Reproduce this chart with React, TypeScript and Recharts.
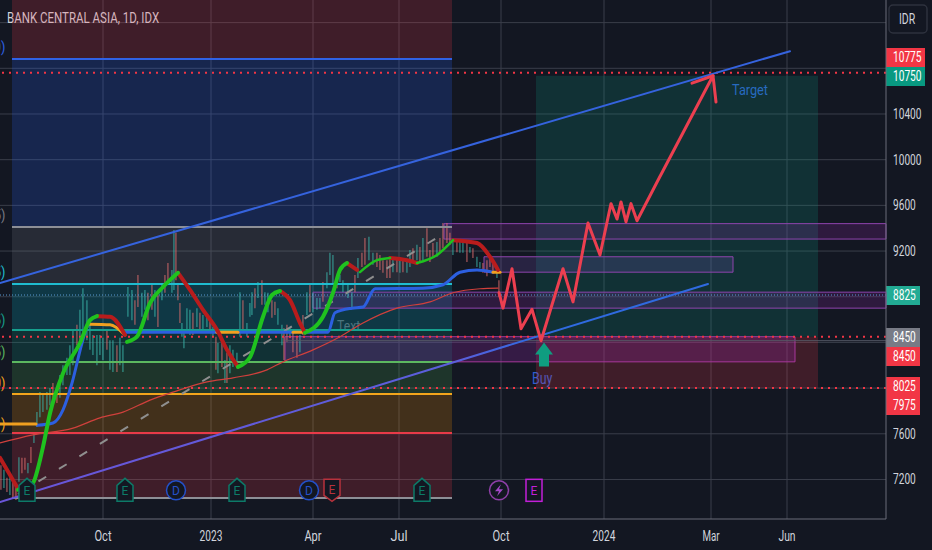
import React from 'react';
import {
  Bar,
  CartesianGrid,
  Cell,
  ComposedChart,
  Line,
  ReferenceArea,
  ReferenceDot,
  ReferenceLine,
  XAxis,
  YAxis,
} from 'recharts';

// time runs as bar position along the chart, price in IDR
const timeTicks = [103, 211, 313, 399, 501, 604, 711, 787];
const timeLabels = ['Oct', '2023', 'Apr', 'Jul', 'Oct', '2024', 'Mar', 'Jun'];
const priceTicks = [7200, 7600, 9200, 9600, 10000, 10400];
const gridPrices = [7200, 7600, 8000, 8400, 8800, 9200, 9600, 10000, 10400, 10800, 11200];

const candleTimes = [
  1, 4, 7, 10, 13, 16, 19, 22, 25, 28, 31, 34, 37, 40, 43, 47, 50, 53, 57, 60, 63, 67, 70, 73, 77, 80, 83, 87, 90, 93,
  97, 100, 103, 107, 110, 113, 117, 120, 123, 128, 132, 135, 138, 142, 145, 148, 152, 155, 158, 162, 165, 168, 172,
  174, 176, 178, 180, 182, 184, 187, 190, 193, 197, 200, 203, 207, 210, 213, 216, 218, 222, 225, 227, 230, 233, 237,
  240, 243, 247, 250, 252, 255, 258, 262, 265, 268, 272, 275, 278, 282, 284, 287, 290, 293, 297, 300, 303, 307, 310,
  313, 317, 320, 323, 327, 330, 333, 337, 340, 343, 348, 352, 355, 358, 362, 365, 369, 373, 377, 380, 383, 387, 390,
  393, 397, 400, 403, 407, 410, 413, 417, 420, 423, 427, 430, 433, 437, 440, 443, 447, 450, 453, 457, 460, 463, 467,
  470, 473, 477, 480, 483, 487, 490, 493, 497, 499,
];
const candleHighs = [
  7325, 7285, 7215, 7240, 7195, 7150, 7395, 7390, 7390, 7345, 7485, 7615, 7790, 7965, 7940, 7965, 8000, 8045, 7985,
  8115, 8200, 8265, 8375, 8510, 8555, 8685, 8875, 8770, 8595, 8465, 8465, 8465, 8440, 8510, 8420, 8420, 8375, 8440,
  8375, 8885, 8860, 8770, 8990, 8835, 8860, 8835, 8905, 8860, 8815, 8905, 8990, 9095, 9035, 9385, 9360, 8920, 8745,
  8570, 8510, 8700, 8685, 8660, 8700, 8660, 8640, 8640, 8595, 8535, 8450, 8395, 8420, 8245, 8310, 8375, 8335, 8310,
  8840, 8770, 8570, 8745, 8840, 8875, 8930, 8945, 8840, 8835, 8770, 8755, 8700, 8555, 8525, 8555, 8525, 8490, 8440,
  8465, 8640, 8840, 8905, 8835, 8790, 8790, 8930, 9015, 9185, 9165, 8990, 8990, 8945, 8920, 8840, 8990, 9140, 9185,
  9315, 9325, 9185, 9185, 9165, 9120, 9120, 9150, 9140, 9140, 9120, 9120, 9120, 9210, 9225, 9255, 9235, 9315, 9400,
  9210, 9270, 9280, 9315, 9445, 9445, 9360, 9280, 9295, 9295, 9280, 9270, 9235, 9225, 9150, 9105, 9095, 9120, 9165,
  9120, 9060, 8945,
];
const candleLows = [
  7110, 7125, 7090, 7065, 7040, 7020, 7180, 7255, 7285, 7255, 7345, 7520, 7660, 7745, 7790, 7810, 7850, 7880, 7870,
  7915, 8025, 8115, 8115, 8200, 8375, 8420, 8465, 8420, 8335, 8290, 8200, 8290, 8245, 8335, 8160, 8140, 8140, 8200,
  8140, 8625, 8595, 8555, 8710, 8625, 8685, 8595, 8685, 8625, 8535, 8770, 8835, 8920, 8835, 8860, 8945, 8770, 8570,
  8450, 8350, 8485, 8465, 8465, 8535, 8490, 8510, 8535, 8485, 8450, 8160, 8130, 8185, 8045, 8045, 8130, 8185, 8185,
  8450, 8510, 8450, 8625, 8640, 8700, 8790, 8730, 8730, 8665, 8615, 8640, 8555, 8375, 8245, 8405, 8440, 8315, 8265,
  8315, 8465, 8640, 8665, 8665, 8685, 8700, 8755, 8875, 8990, 8905, 8875, 8930, 8840, 8790, 8700, 8840, 8965, 9060,
  9080, 9120, 9080, 9060, 9035, 9010, 8965, 8965, 9015, 9015, 9010, 9015, 9010, 9060, 9105, 9120, 9095, 9120, 9150,
  9105, 9140, 9150, 9185, 9225, 9270, 9255, 9165, 9190, 9185, 9185, 9105, 9185, 9140, 9060, 9050, 9010, 8980, 9060,
  9010, 8965, 8800,
];
const candleDirs = (
  'DUDUDDUDDUDUUUUUUDDUUUUUDUUUUUUUUDUUDUU' +
  'UUDDUUDDUDUDDUUDDDUUUUDUDUUDUDUDUDUUUUD' +
  'UUUDUDUUDDUUDDUDDUDUDUUUDUUUDUUUUDUDDUU' +
  'DDDDDUDUDUUDUDUDDDUDDDDUDUUDUDUUDDDDUDUU'
).split('');

const channelUpper = [{ x: 0, p: 8920 }, { x: 790, p: 10950 }];
const channelLower = [{ x: 0, p: 7003 }, { x: 708, p: 8912 }];
const dashedTrend = [{ x: 18, p: 7073 }, { x: 445, p: 9360 }];

const slowAverage = [
  { x: 0, p: 7520 }, { x: 33, p: 7590 }, { x: 73, p: 7650 }, { x: 100, p: 7740 }, { x: 123, p: 7790 },
  { x: 150, p: 7895 }, { x: 173, p: 7965 }, { x: 207, p: 8055 }, { x: 233, p: 8090 }, { x: 267, p: 8160 },
  { x: 283, p: 8230 }, { x: 313, p: 8335 }, { x: 340, p: 8450 }, { x: 363, p: 8570 }, { x: 397, p: 8700 },
  { x: 430, p: 8755 }, { x: 453, p: 8835 }, { x: 480, p: 8870 }, { x: 498, p: 8875 },
];

const hullRising = [
  [{ x: 18, p: 7110 }, { x: 33, p: 7170 }, { x: 38, p: 7300 }, { x: 43, p: 7485 }, { x: 50, p: 7780 }, { x: 63, p: 8130 }, { x: 80, p: 8395 }, { x: 90, p: 8595 }, { x: 97, p: 8630 }],
  [{ x: 127, p: 8405 }, { x: 137, p: 8450 }, { x: 150, p: 8745 }, { x: 163, p: 8885 }, { x: 178, p: 9010 }],
  [{ x: 238, p: 8185 }, { x: 250, p: 8270 }, { x: 263, p: 8625 }, { x: 272, p: 8815 }, { x: 280, p: 8850 }],
  [{ x: 305, p: 8485 }, { x: 323, p: 8625 }, { x: 333, p: 8835 }, { x: 340, p: 9035 }, { x: 347, p: 9095 }],
  [{ x: 360, p: 9015 }, { x: 377, p: 9120 }, { x: 390, p: 9140 }],
  [{ x: 417, p: 9095 }, { x: 437, p: 9165 }, { x: 453, p: 9295 }],
];
const hullFalling = [
  [{ x: 0, p: 7390 }, { x: 17, p: 7135 }],
  [{ x: 97, p: 8630 }, { x: 110, p: 8625 }, { x: 125, p: 8465 }],
  [{ x: 178, p: 9010 }, { x: 190, p: 8860 }, { x: 203, p: 8685 }, { x: 217, p: 8510 }, { x: 227, p: 8335 }, { x: 238, p: 8185 }],
  [{ x: 280, p: 8850 }, { x: 290, p: 8770 }, { x: 300, p: 8570 }, { x: 305, p: 8485 }],
  [{ x: 347, p: 9095 }, { x: 357, p: 9035 }],
  [{ x: 390, p: 9140 }, { x: 407, p: 9120 }, { x: 417, p: 9095 }],
  [{ x: 453, p: 9295 }, { x: 477, p: 9270 }, { x: 490, p: 9150 }, { x: 498, p: 9035 }],
];

const stopBlue = [
  [{ x: 37, p: 7675 }, { x: 53, p: 7695 }, { x: 63, p: 7810 }, { x: 72, p: 8045 }, { x: 82, p: 8395 }, { x: 87, p: 8535 }, { x: 90, p: 8560 }],
  [{ x: 125, p: 8490 }, { x: 217, p: 8490 }],
  [{ x: 238, p: 8490 }, { x: 293, p: 8490 }],
  [{ x: 305, p: 8490 }, { x: 328, p: 8490 }, { x: 335, p: 8660 }, { x: 352, p: 8700 }, { x: 363, p: 8710 }, { x: 375, p: 8870 }, { x: 423, p: 8875 }, { x: 443, p: 8905 }, { x: 460, p: 9015 }, { x: 477, p: 9035 }, { x: 493, p: 9015 }],
];
const stopOrange = [
  [{ x: 0, p: 7685 }, { x: 36, p: 7685 }],
  [{ x: 90, p: 8560 }, { x: 110, p: 8555 }, { x: 125, p: 8465 }],
  [{ x: 217, p: 8490 }, { x: 238, p: 8490 }],
  [{ x: 293, p: 8490 }, { x: 305, p: 8490 }],
  [{ x: 493, p: 9015 }, { x: 500, p: 9015 }],
];

const projection = [
  { x: 499, p: 8835 }, { x: 503, p: 8700 }, { x: 512, p: 9045 }, { x: 521, p: 8520 }, { x: 532, p: 8690 },
  { x: 541, p: 8415 }, { x: 563, p: 9045 }, { x: 573, p: 8755 }, { x: 588, p: 9445 }, { x: 600, p: 9165 },
  { x: 611, p: 9615 }, { x: 617, p: 9480 }, { x: 621, p: 9630 }, { x: 626, p: 9455 }, { x: 631, p: 9615 },
  { x: 637, p: 9465 }, { x: 658, p: 9820 }, { x: 713, p: 10735 },
];
const projectionHead = [{ x: 692, p: 10670 }, { x: 713, p: 10735 }, { x: 716, p: 10505 }];

// fib-style levels on the left, top to bottom
const levelPrices = [10881, 9411, 8912, 8509, 8229, 7949, 7607, 7038];
const levelColors = ['#2f62e6', '#8d8f96', '#1fbcd0', '#16a08e', '#5cb860', '#f2a51c', '#e83a48', '#8d8f96'];
const zoneColors = ['#f23645', '#2962ff', '#787b86', '#00bcd4', '#089981', '#4caf50', '#ff9800', '#f23645'];

const earningsTimes = [27, 125, 237, 422];
const dividendTimes = [176, 309];

const tagLabels = ['10775', '10750', '8825', '8450', '8450', '8025', '7975'];
const tagColors = ['#f23645', '#089981', '#22ab94', '#787b86', '#f23645', '#f23645', '#f23645'];
const tagTops = [48, 67, 286, 328, 347, 377, 396];

const candles = candleTimes.map((x, i) => ({ x, range: [candleLows[i], candleHighs[i]] }));

const EVENT_Y = 7105;
const FONT = 'Roboto, sans-serif';
const CHAR_W = 5.7;

// the source text is squeezed horizontally, no narrow font here so stretch to a set length
const Squeezed = ({ x, y, text, fill, size = 14, anchor = 'start', w = CHAR_W }: any) => (
  <text
    x={x}
    y={y}
    fontSize={size}
    fill={fill}
    fontFamily={FONT}
    textAnchor={anchor}
    textLength={String(text).length * w}
    lengthAdjust="spacingAndGlyphs"
  >
    {text}
  </text>
);

const PriceTick = ({ y, payload }: any) => <Squeezed x={893} y={y + 5} text={String(payload.value)} fill="#d1d4dc" />;
const TimeTick = ({ x, payload }: any) => (
  <Squeezed x={x} y={541} text={timeLabels[timeTicks.indexOf(payload.value)]} fill="#d1d4dc" anchor="middle" />
);

const EarningsFlag = ({ cx, cy }: any) => (
  <g>
    <path
      d={`M${cx - 8} ${cy + 11} V${cy - 5} L${cx} ${cy - 12} L${cx + 8} ${cy - 5} V${cy + 11} Z`}
      fill="#131722"
      stroke="#0d7a68"
      strokeWidth={1.5}
    />
    <text x={cx} y={cy + 5} textAnchor="middle" fontSize={12} fill="#0d7a68" fontFamily={FONT}>E</text>
  </g>
);

const DividendBadge = ({ cx, cy }: any) => (
  <g>
    <circle cx={cx} cy={cy} r={9.5} fill="#131722" stroke="#2450c8" strokeWidth={1.5} />
    <text x={cx} y={cy + 4.5} textAnchor="middle" fontSize={12} fill="#2450c8" fontFamily={FONT}>D</text>
  </g>
);

const MissedEarnings = ({ cx, cy }: any) => (
  <g>
    <path
      d={`M${cx - 8} ${cy - 11} H${cx + 8} V${cy + 5} L${cx} ${cy + 11} L${cx - 8} ${cy + 5} Z`}
      fill="#131722"
      stroke="#b8323c"
      strokeWidth={1.5}
    />
    <text x={cx} y={cy + 4} textAnchor="middle" fontSize={12} fill="#b8323c" fontFamily={FONT}>E</text>
  </g>
);

const SplitBadge = ({ cx, cy }: any) => (
  <g>
    <circle cx={cx} cy={cy} r={9.5} fill="#131722" stroke="#8e3fa8" strokeWidth={1.5} />
    <path d={`M${cx + 2} ${cy - 6} L${cx - 4} ${cy + 1} H${cx} L${cx - 2} ${cy + 6} L${cx + 4} ${cy - 1} H${cx} Z`} fill="#a548c8" />
  </g>
);

const FutureEarnings = ({ cx, cy }: any) => (
  <g>
    <rect x={cx - 8} y={cy - 11} width={16} height={22} fill="#131722" stroke="#c21fd8" strokeWidth={1.5} />
    <text x={cx} y={cy + 4.5} textAnchor="middle" fontSize={12} fill="#c21fd8" fontFamily={FONT}>E</text>
  </g>
);

const BuyArrow = ({ cx, cy }: any) => (
  <path
    d={`M${cx} ${cy} L${cx + 9} ${cy + 12} H${cx + 5} V${cy + 24} H${cx - 5} V${cy + 12} H${cx - 9} Z`}
    fill="#0f9d80"
  />
);

const PriceTag = ({ i }: { i: number }) => (
  <g>
    <rect x={886} y={tagTops[i]} width={i < 2 ? 39 : 34} height={19} fill={tagColors[i]} />
    <Squeezed x={893} y={tagTops[i] + 14} text={tagLabels[i]} fill="#fff" />
  </g>
);

const line = (data: any[], stroke: string, width: number, key: string, extra: any = {}) => (
  <Line
    key={key}
    data={data}
    dataKey="p"
    stroke={stroke}
    strokeWidth={width}
    dot={false}
    activeDot={false}
    legendType="none"
    isAnimationActive={false}
    strokeLinejoin="round"
    strokeLinecap="round"
    {...extra}
  />
);

const App = () => {
  const stubs = [
    { t: '0)', y: 52, c: '#2f62e6' },
    { t: '5)', y: 220, c: '#787b86' },
    { t: '5)', y: 277, c: '#1fbcd0' },
    { t: '5)', y: 325, c: '#16a08e' },
    { t: '5)', y: 357, c: '#5cb860' },
    { t: '0)', y: 388, c: '#f2a51c' },
    { t: '1)', y: 429, c: '#f2a51c' },
  ];
  return (
    <div style={{ position: 'absolute', left: 0, top: 0, width: 932, height: 550, background: '#131722', overflow: 'hidden' }}>
      <ComposedChart width={932} height={550} data={candles} margin={{ top: 0, right: 0, bottom: 0, left: 0 }}>
        <defs>
          <linearGradient id="lowerChannel" x1="0" y1="0" x2="1" y2="0">
            <stop offset="0%" stopColor="#6a55d8" />
            <stop offset="65%" stopColor="#5a5fdc" />
            <stop offset="75%" stopColor="#2f6ae0" />
            <stop offset="100%" stopColor="#2f6ae0" />
          </linearGradient>
        </defs>
        <CartesianGrid stroke="#3a3e4a" strokeWidth={1} horizontalValues={gridPrices} verticalValues={timeTicks} />
        <XAxis
          type="number"
          dataKey="x"
          domain={[0, 886]}
          allowDataOverflow
          ticks={timeTicks}
          interval={0}
          height={31}
          tickLine={false}
          axisLine={{ stroke: '#6a6d78' }}
          tick={TimeTick}
        />
        <YAxis
          orientation="right"
          type="number"
          domain={[6854, 11398]}
          allowDataOverflow
          ticks={priceTicks}
          interval={0}
          width={46}
          tickLine={false}
          axisLine={{ stroke: '#6a6d78' }}
          tick={PriceTick}
        />

        {/* fib zones */}
        <ReferenceArea x1={12} x2={452} y1={11398} y2={levelPrices[0]} fill={zoneColors[0]} fillOpacity={0.2} stroke="none" />
        {levelPrices.slice(1).map((p, i) => (
          <ReferenceArea key={p} x1={12} x2={452} y1={levelPrices[i]} y2={p} fill={zoneColors[i + 1]} fillOpacity={0.2} stroke="none" />
        ))}

        {/* long position box */}
        <ReferenceArea x1={536} x2={818} y1={10735} y2={8450} fill="#089981" fillOpacity={0.2} stroke="none" />
        <ReferenceArea x1={536} x2={818} y1={8450} y2={8000} fill="#f23645" fillOpacity={0.2} stroke="none" />

        {/* supply and demand boxes */}
        <ReferenceArea x1={444} x2={886} y1={9440} y2={9305} fill="#9c27b0" fillOpacity={0.2} stroke="#8e44ad" />
        <ReferenceArea x1={484} x2={733} y1={9150} y2={9015} fill="#7e57c2" fillOpacity={0.2} stroke="#8e44ad" />
        <ReferenceArea x1={313} x2={886} y1={8840} y2={8700} fill="#9c27b0" fillOpacity={0.2} stroke="#8e44ad" />
        <ReferenceArea x1={285} x2={795} y1={8450} y2={8230} fill="#9c27b0" fillOpacity={0.25} stroke="#a8389c" />

        {levelPrices.map((p, i) => (
          <ReferenceLine
            key={p}
            segment={[{ x: 12, y: p }, { x: 452, y: p }]}
            stroke={levelColors[i]}
            strokeWidth={2}
          />
        ))}
        <ReferenceLine segment={[{ x: 285, y: 8415 }, { x: 886, y: 8415 }]} stroke="#565a66" />
        <ReferenceLine y={10760} stroke="#f23645" strokeWidth={2} strokeDasharray="2 5" />
        <ReferenceLine y={8450} stroke="#f23645" strokeWidth={2} strokeDasharray="2 5" />
        <ReferenceLine y={8000} stroke="#f23645" strokeWidth={2} strokeDasharray="2 5" />
        <ReferenceLine y={8815} stroke="#5b9bd5" strokeWidth={1} strokeDasharray="1 2" />

        <Bar dataKey="range" barSize={2.2} isAnimationActive={false} legendType="none">
          {candles.map((c, i) => (
            <Cell key={c.x} fill={candleDirs[i] === 'U' ? '#3ab5aa' : '#dc6c6c'} />
          ))}
        </Bar>

        {line(slowAverage, '#d0403c', 1.2, 'slow', { type: 'monotone' })}
        {line(dashedTrend, '#8f8f8f', 2, 'dash', { strokeDasharray: '9 15', strokeLinecap: 'butt' })}
        {line(channelUpper, '#3563de', 2, 'upper')}
        {line(channelLower, 'url(#lowerChannel)', 2, 'lower')}
        {stopBlue.map((s, i) => line(s, '#2c5fe0', 3, `sb${i}`, { type: 'monotone' }))}
        {stopOrange.map((s, i) => line(s, '#f0a020', 3, `so${i}`, { type: 'monotone' }))}
        {hullFalling.map((s, i) => line(s, '#b81c1c', 4, `hf${i}`, { type: 'monotone' }))}
        {hullRising.map((s, i) => line(s, '#1fc21f', i > 3 ? 2.5 : 4, `hr${i}`, { type: 'monotone' }))}
        {line(projection, '#ec3f50', 3, 'path')}
        {line(projectionHead, '#ec3f50', 3, 'head')}

        {earningsTimes.map((x) => (
          <ReferenceDot key={x} x={x} y={EVENT_Y} r={9} shape={EarningsFlag} />
        ))}
        {dividendTimes.map((x) => (
          <ReferenceDot key={x} x={x} y={EVENT_Y} r={9} shape={DividendBadge} />
        ))}
        <ReferenceDot x={332} y={EVENT_Y} r={9} shape={MissedEarnings} />
        <ReferenceDot x={499} y={EVENT_Y} r={9} shape={SplitBadge} />
        <ReferenceDot x={534} y={EVENT_Y} r={9} shape={FutureEarnings} />
        <ReferenceDot x={544} y={8400} r={9} shape={BuyArrow} />

        <Squeezed x={7} y={23} text="BANK CENTRAL ASIA, 1D, IDX" fill="#d1d4dc" w={5.85} />
        <Squeezed x={732} y={95} text="Target" fill="#2f5fd0" w={6} />
        <Squeezed x={532} y={384} text="Buy" fill="#2f5fd0" size={16} w={6.8} />
        <Squeezed x={337} y={331} text="Text" fill="#5f626b" w={5.8} />
        {stubs.map((s) => (
          <Squeezed key={s.y} x={-6} y={s.y} text={s.t} fill={s.c} />
        ))}

        <rect x={889} y={5} width={38} height={28} rx={4} fill="#131722" stroke="#2e323e" strokeWidth={1.5} />
        <Squeezed x={907} y={24} text="IDR" fill="#d1d4dc" anchor="middle" w={5.4} />
        {tagLabels.map((t, i) => (
          <PriceTag key={i} i={i} />
        ))}
      </ComposedChart>
    </div>
  );
};

export default App;
